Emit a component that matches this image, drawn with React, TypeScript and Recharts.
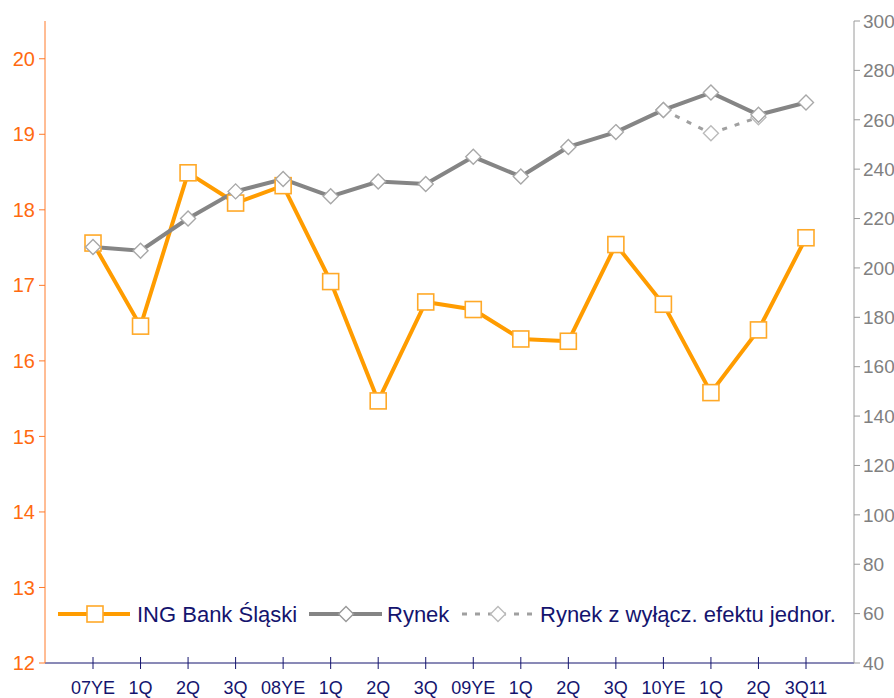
import React from "react";
import { LineChart, Line, XAxis, YAxis } from "recharts";

const categories = ["07YE", "1Q", "2Q", "3Q", "08YE", "1Q", "2Q", "3Q", "09YE", "1Q", "2Q", "3Q", "10YE", "1Q", "2Q", "3Q11"];
const ingValues = [17.56, 16.46, 18.49, 18.09, 18.32, 17.05, 15.47, 16.78, 16.68, 16.29, 16.26, 17.54, 16.75, 15.58, 16.41, 17.63];
const rynekValues = [208.5, 207, 220, 231, 236, 229, 235, 234, 245, 237, 249, 255, 264, 271, 262, 267];
const rynekAdjValues: (number | null)[] = [null, null, null, null, null, null, null, null, null, null, null, null, 264, 254.5, 261, null];
const leftTicks = [12, 13, 14, 15, 16, 17, 18, 19, 20];
const rightTicks = [40, 60, 80, 100, 120, 140, 160, 180, 200, 220, 240, 260, 280, 300];

const data = categories.map((c, i) => ({
  key: `${c}-${i}`,
  label: c,
  ing: ingValues[i],
  rynek: rynekValues[i],
  rynekAdj: rynekAdjValues[i],
}));

const FONT = '"Liberation Sans", Arial, sans-serif';
const ORANGE = "#ff9c00";
const ORANGE_MARK = "#ffa928";
const NAVY = "#14146e";

const SquareDot = (props: any) => {
  const { cx, cy, index } = props;
  if (cx == null || cy == null) return <g key={`s-${index}`} />;
  return <rect key={`s-${index}`} x={cx - 8} y={cy - 8} width={16} height={16} fill="#fff" stroke={ORANGE_MARK} strokeWidth={1.6} />;
};

const diamond = (color: string) => (props: any) => {
  const { cx, cy, index, value } = props;
  if (cx == null || cy == null || value == null) return <g key={`d-${index}`} />;
  const r = 7.5;
  return (
    <path
      key={`d-${index}`}
      d={`M${cx},${cy - r} L${cx + r},${cy} L${cx},${cy + r} L${cx - r},${cy} Z`}
      fill="#fff"
      stroke={color}
      strokeWidth={1.4}
    />
  );
};

const XTick = (props: any) => {
  const { x, y, index } = props;
  return (
    <text x={x} y={y + 19} textAnchor="middle" fill={NAVY} fontSize={18} fontFamily={FONT}>
      {categories[index]}
    </text>
  );
};

// legend drawn on top of the plot area, like in the original
const ChartLegend = () => {
  const text = { fill: NAVY, fontSize: 22, fontFamily: FONT } as const;
  return (
    <svg width={894} height={30} style={{ position: "absolute", left: 0, top: 599 }}>
      <line x1={58} x2={130} y1={15} y2={15} stroke={ORANGE} strokeWidth={4} />
      <rect x={87} y={7} width={16} height={16} fill="#fff" stroke={ORANGE_MARK} strokeWidth={1.6} />
      <text x={137} y={23} {...text}>ING Bank Śląski</text>
      <line x1={309} x2={382} y1={15} y2={15} stroke="#858585" strokeWidth={4} />
      <path d="M346,7.5 L353.5,15 L346,22.5 L338.5,15 Z" fill="#fff" stroke="#999" strokeWidth={1.4} />
      <text x={387} y={23} {...text}>Rynek</text>
      <line x1={462} x2={534} y1={15} y2={15} stroke="#a0a0a0" strokeWidth={3} strokeDasharray="5 8" />
      <path d="M498,7.5 L505.5,15 L498,22.5 L490.5,15 Z" fill="#fff" stroke="#bbb" strokeWidth={1.4} />
      <text x={540} y={23} {...text}>Rynek z wyłącz. efektu jednor.</text>
    </svg>
  );
};

export default function App() {
  return (
    <div style={{ position: "fixed", left: 0, top: 0, width: 894, height: 698, background: "#fff" }}>
      <LineChart width={894} height={698} data={data} margin={{ top: 21, right: 0, left: 0, bottom: 0 }}>
        <XAxis
          dataKey="key"
          scale="point"
          padding={{ left: 48, right: 48 }}
          height={35}
          stroke={NAVY}
          tickSize={12}
          tickMargin={0}
          tickLine={{ stroke: NAVY, transform: "translate(0,-6)" }}
          tick={<XTick />}
          interval={0}
        />
        <YAxis
          yAxisId="left"
          domain={[12, 20.5]}
          ticks={leftTicks}
          width={45}
          stroke="#ff7a2a"
          tickSize={6}
          tickMargin={4}
          tick={{ fill: "#ff6a10", fontSize: 20, fontFamily: FONT }}
          allowDataOverflow
        />
        <YAxis
          yAxisId="right"
          orientation="right"
          domain={[40, 300]}
          ticks={rightTicks}
          width={40}
          stroke="#9a9a9a"
          tickSize={6}
          tickMargin={3}
          tick={{ fill: "#808080", fontSize: 19, fontFamily: FONT, textAnchor: "start" }}
          allowDataOverflow
        />
        <Line
          yAxisId="left"
          dataKey="ing"
          stroke={ORANGE}
          strokeWidth={4}
          dot={<SquareDot />}
          activeDot={false}
          isAnimationActive={false}
        />
        <Line
          yAxisId="right"
          dataKey="rynekAdj"
          stroke="#a0a0a0"
          strokeWidth={3}
          strokeDasharray="5 8"
          dot={diamond("#bbbbbb")}
          activeDot={false}
          connectNulls={false}
          isAnimationActive={false}
        />
        <Line
          yAxisId="right"
          dataKey="rynek"
          stroke="#858585"
          strokeWidth={4}
          dot={diamond("#a8a8a8")}
          activeDot={false}
          isAnimationActive={false}
        />
      </LineChart>
      <ChartLegend />
    </div>
  );
}
